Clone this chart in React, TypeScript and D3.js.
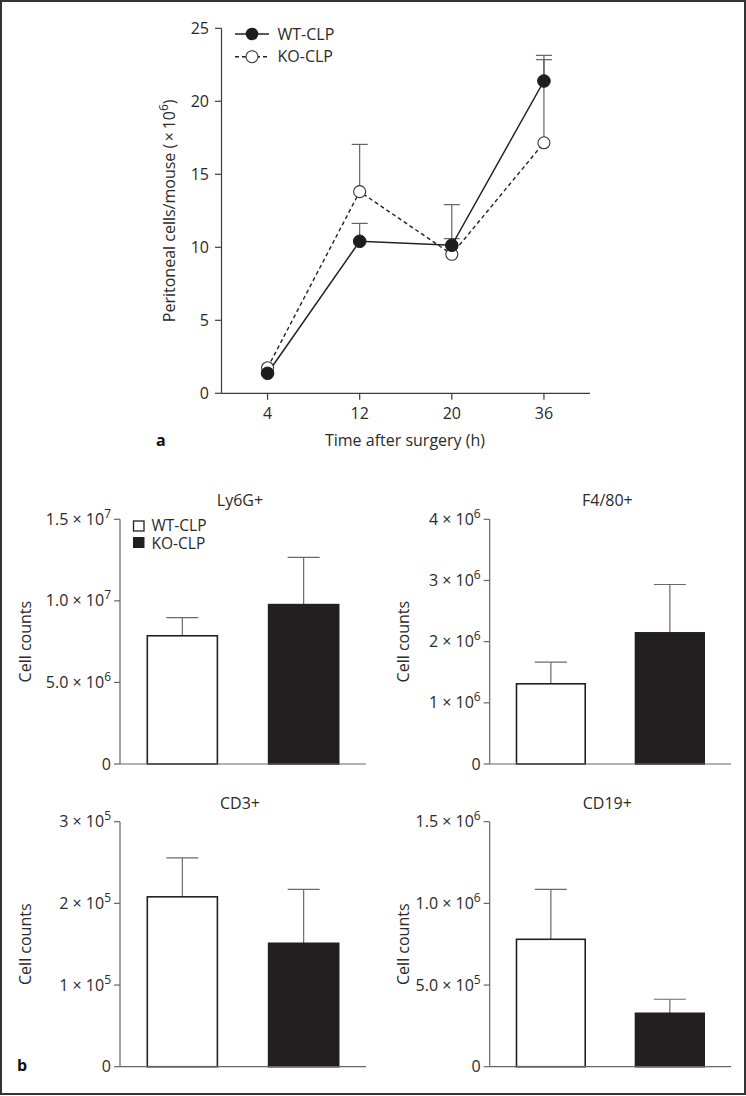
import React from "react";
import * as d3 from "d3";

// ---------- Panel a data ----------
const timeCats = ["4", "12", "20", "36"];
const wtMean = [1.37, 10.41, 10.14, 21.39];
const wtErrTop = [1.37, 11.64, 10.59, 23.15];
const koMean = [1.75, 13.81, 9.52, 17.16];
const koErrTop = [1.75, 17.05, 12.92, 22.85];
const lineYTicks = [0, 5, 10, 15, 20, 25];

// ---------- Panel b data ----------
const groups = ["WT-CLP", "KO-CLP"];
const panelTitles = ["Ly6G+", "F4/80+", "CD3+", "CD19+"];
const panelMax = [1.5e7, 4e6, 3e5, 1.5e6];
const panelMeans = [
  [7.86e6, 9.77e6],
  [1.311e6, 2.144e6],
  [2.08e5, 1.511e5],
  [7.8e5, 3.27e5],
];
const panelErrTop = [
  [8.97e6, 1.267e7],
  [1.665e6, 2.934e6],
  [2.556e5, 2.172e5],
  [1.086e6, 4.13e5],
];
// tick values with mantissa / exponent labels
const panelTicks = [
  [{ v: 0, m: "0", e: "" }, { v: 5e6, m: "5.0", e: "6" }, { v: 1e7, m: "1.0", e: "7" }, { v: 1.5e7, m: "1.5", e: "7" }],
  [{ v: 0, m: "0", e: "" }, { v: 1e6, m: "1", e: "6" }, { v: 2e6, m: "2", e: "6" }, { v: 3e6, m: "3", e: "6" }, { v: 4e6, m: "4", e: "6" }],
  [{ v: 0, m: "0", e: "" }, { v: 1e5, m: "1", e: "5" }, { v: 2e5, m: "2", e: "5" }, { v: 3e5, m: "3", e: "5" }],
  [{ v: 0, m: "0", e: "" }, { v: 5e5, m: "5.0", e: "5" }, { v: 1e6, m: "1.0", e: "6" }, { v: 1.5e6, m: "1.5", e: "6" }],
];

const FONT = "'Open Sans', 'DejaVu Sans', sans-serif";
const FS = 16;
const AXIS = "#3c3c3c";
const TXT = "#2a2a2a";

function LinePanel() {
  const x = d3.scalePoint<string>().domain(timeCats).range([221.5, 590]).padding(0.5);
  const y = d3.scaleLinear().domain([0, 25]).range([393.3, 28.3]);
  const line = d3
    .line<number>()
    .x((_, i) => x(timeCats[i]) as number)
    .y((d) => y(d));
  return (
    <g>
      {/* axes */}
      <line x1={221.5} x2={221.5} y1={y(25)} y2={y(0)} stroke={AXIS} strokeWidth={1.2} />
      <line x1={221.5} x2={590} y1={y(0)} y2={y(0)} stroke={AXIS} strokeWidth={1.2} />
      {lineYTicks.map((t) => (
        <g key={t}>
          <line x1={215} x2={221.5} y1={y(t)} y2={y(t)} stroke={AXIS} strokeWidth={1.2} />
          <text x={209} y={y(t) + 5.5} textAnchor="end" fontSize={FS} fill={TXT}>
            {t}
          </text>
        </g>
      ))}
      {timeCats.map((c) => (
        <g key={c}>
          <line x1={x(c)} x2={x(c)} y1={y(0)} y2={y(0) + 6.5} stroke={AXIS} strokeWidth={1.2} />
          <text x={x(c)} y={y(0) + 26} textAnchor="middle" fontSize={FS} fill={TXT}>
            {c}
          </text>
        </g>
      ))}
      <text x={405} y={446} textAnchor="middle" fontSize={FS} fill={TXT}>
        Time after surgery (h)
      </text>
      <text transform={`translate(175,${(y(0) + y(25)) / 2}) rotate(-90)`} textAnchor="middle" fontSize={FS} fill={TXT}>
        {"Peritoneal cells/mouse (\u2009×\u200910"}
        <tspan dy={-7} fontSize={12}>6</tspan>
        <tspan dy={7}>)</tspan>
      </text>
      <text x={156} y={446} fontSize={FS} fontWeight="bold" fill="#111">
        a
      </text>
      {/* error bars */}
      {[
        { m: wtMean, e: wtErrTop },
        { m: koMean, e: koErrTop },
      ].map((s, si) =>
        timeCats.map((c, i) =>
          s.e[i] > s.m[i] + 0.05 ? (
            <g key={`${si}-${c}`} stroke="#555" strokeWidth={1.1}>
              <line x1={x(c)} x2={x(c)} y1={y(s.m[i])} y2={y(s.e[i])} />
              <line x1={(x(c) as number) - 8} x2={(x(c) as number) + 8} y1={y(s.e[i])} y2={y(s.e[i])} />
            </g>
          ) : null
        )
      )}
      {/* lines */}
      <path d={line(koMean) || ""} fill="none" stroke="#222" strokeWidth={1.4} strokeDasharray="4,3" />
      <path d={line(wtMean) || ""} fill="none" stroke="#222" strokeWidth={1.5} />
      {/* markers */}
      {timeCats.map((c, i) => (
        <circle key={"ko" + c} cx={x(c)} cy={y(koMean[i])} r={6} fill="#fff" stroke="#333" strokeWidth={1.1} />
      ))}
      {timeCats.map((c, i) => (
        <circle key={"wt" + c} cx={x(c)} cy={y(wtMean[i])} r={6.3} fill="#1d1d1d" stroke="#1d1d1d" strokeWidth={1} />
      ))}
      {/* legend */}
      <line x1={235} x2={269} y1={34} y2={34} stroke="#222" strokeWidth={1.5} />
      <circle cx={252} cy={34} r={6.3} fill="#1d1d1d" />
      <text x={277.5} y={39.5} fontSize={FS} fill={TXT}>
        WT-CLP
      </text>
      <line x1={235} x2={269} y1={56.7} y2={56.7} stroke="#222" strokeWidth={1.4} strokeDasharray="4,3" />
      <circle cx={252} cy={56.7} r={6} fill="#fff" stroke="#333" strokeWidth={1.1} />
      <text x={277.5} y={62.2} fontSize={FS} fill={TXT}>
        KO-CLP
      </text>
    </g>
  );
}

function BarPanel({ idx, x0, x1, top, bottom, labelX }: { idx: number; x0: number; x1: number; top: number; bottom: number; labelX: number }) {
  const xb = d3.scaleBand<string>().domain(groups).range([x0, x1]).paddingInner(0.414).paddingOuter(0.221);
  const y = d3.scaleLinear().domain([0, panelMax[idx]]).range([bottom, top]);
  const means = panelMeans[idx];
  const errs = panelErrTop[idx];
  const bw = xb.bandwidth();
  return (
    <g>
      <text x={(x0 + x1) / 2 - 3} y={top - 13} textAnchor="middle" fontSize={FS} fill={TXT}>
        {panelTitles[idx]}
      </text>
      {/* error bars */}
      {groups.map((g, i) => {
        const cx = (xb(g) as number) + bw / 2;
        return (
          <g key={"e" + g} stroke="#6a6a6a" strokeWidth={1.2}>
            <line x1={cx} x2={cx} y1={y(means[i])} y2={y(errs[i])} />
            <line x1={cx - 16} x2={cx + 16} y1={y(errs[i])} y2={y(errs[i])} />
          </g>
        );
      })}
      {groups.map((g, i) => (
        <rect
          key={"b" + g}
          x={(xb(g) as number) + 0.5}
          y={y(means[i])}
          width={bw - 1}
          height={bottom - y(means[i])}
          fill={i === 0 ? "#fff" : "#231f20"}
          stroke="#231f20"
          strokeWidth={1.6}
        />
      ))}
      <line x1={x0} x2={x0} y1={top} y2={bottom} stroke="#666" strokeWidth={1.2} />
      <line x1={x0} x2={x1} y1={bottom} y2={bottom} stroke="#666" strokeWidth={1.2} />
      {panelTicks[idx].map((t) => (
        <g key={t.v}>
          <line x1={x0 - 6} x2={x0} y1={y(t.v)} y2={y(t.v)} stroke="#666" strokeWidth={1.2} />
          <text x={x0 - 9} y={y(t.v) + 5.5} textAnchor="end" fontSize={FS} fill={TXT}>
            {t.e ? (
              <>
                {`${t.m} × 10`}
                <tspan dy={-7} fontSize={12}>
                  {t.e}
                </tspan>
              </>
            ) : (
              t.m
            )}
          </text>
        </g>
      ))}
      <text transform={`translate(${labelX},${(top + bottom) / 2}) rotate(-90)`} textAnchor="middle" fontSize={FS} fill={TXT}>
        Cell counts
      </text>
    </g>
  );
}

export default function App() {
  return (
    <svg
      width={746}
      height={1096}
      style={{ position: "absolute", left: 0, top: 0, fontFamily: FONT, background: "#fff" }}
    >
      <rect x={0} y={0} width={746} height={1096} fill="#fff" />
      <rect x={1} y={1} width={744} height={1093} fill="none" stroke="#333" strokeWidth={2} />
      <LinePanel />
      <BarPanel idx={0} x0={120} x1={366} top={519.3} bottom={764} labelX={31} />
      <BarPanel idx={1} x0={489.7} x1={731} top={519.3} bottom={764} labelX={409} />
      <BarPanel idx={2} x0={120} x1={366} top={821.7} bottom={1066.7} labelX={31} />
      <BarPanel idx={3} x0={489.7} x1={731} top={821.7} bottom={1066.7} labelX={409} />
      {/* bar legend */}
      <rect x={133.5} y={521} width={10.5} height={10} fill="#fff" stroke="#231f20" strokeWidth={1.3} />
      <rect x={133} y={537} width={11.5} height={11} fill="#231f20" />
      <text x={151.5} y={531} fontSize={15.5} fill={TXT}>
        <tspan x={151.5} y={531}>{groups[0]}</tspan>
        <tspan x={151.5} y={548.5}>{groups[1]}</tspan>
      </text>
      <text x={17} y={1071} fontSize={FS} fontWeight="bold" fill="#111">
        b
      </text>
    </svg>
  );
}
